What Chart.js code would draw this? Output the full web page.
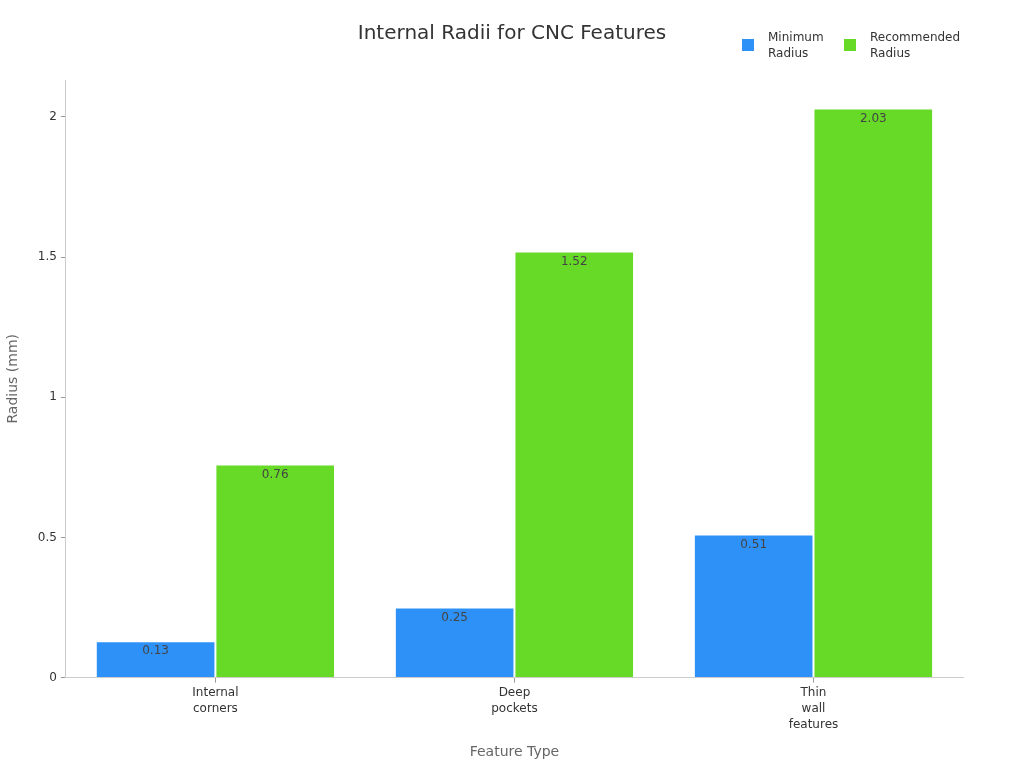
<!DOCTYPE html>
<html>
<head>
<meta charset="utf-8">
<script src="https://cdn.jsdelivr.net/npm/chart.js@4"></script>
<style>
  html, body { margin: 0; padding: 0; background: #fff; }
  #wrap { width: 1024px; height: 768px; }
</style>
</head>
<body>
<div id="wrap"><canvas id="chart" width="1024" height="768"></canvas></div>
<script>
const categories = [['Internal', 'corners'], ['Deep', 'pockets'], ['Thin', 'wall', 'features']];
const seriesNames = [['Minimum', 'Radius'], ['Recommended', 'Radius']];
const seriesColors = ['#2E91F8', '#66DA26'];
const minRadius = [0.13, 0.25, 0.51];
const recRadius = [0.76, 1.52, 2.03];
const yTicks = [0, 0.5, 1, 1.5, 2];

// value labels just inside the top of each bar
const barLabels = {
    id: 'barLabels',
    afterDatasetsDraw(chart) {
        const ctx = chart.ctx;
        ctx.save();
        ctx.font = '12px "DejaVu Sans"';
        ctx.fillStyle = '#444';
        ctx.textAlign = 'center';
        ctx.textBaseline = 'top';
        chart.data.datasets.forEach((ds, i) => {
            chart.getDatasetMeta(i).data.forEach((bar, j) => {
                ctx.fillText(ds.data[j].toFixed(2), bar.x, bar.y + 4);
            });
        });
        ctx.restore();
    }
};

// title + two-line legend in the top right
const header = {
    id: 'header',
    afterDraw(chart) {
        const ctx = chart.ctx;
        ctx.save();
        ctx.font = '20px "DejaVu Sans"';
        ctx.fillStyle = '#333';
        ctx.textAlign = 'center';
        ctx.textBaseline = 'middle';
        ctx.fillText('Internal Radii for CNC Features', 512, 34);

        const boxX = [742, 844];
        ctx.font = '12px "DejaVu Sans"';
        ctx.textAlign = 'left';
        seriesNames.forEach((lines, i) => {
            ctx.fillStyle = seriesColors[i];
            ctx.fillRect(boxX[i], 39, 12, 12);
            ctx.fillStyle = '#333';
            lines.forEach((t, k) => ctx.fillText(t, boxX[i] + 26, 38 + k * 16));
        });
        ctx.restore();
    }
};

new Chart(document.getElementById('chart').getContext('2d'), {
    type: 'bar',
    data: {
        labels: categories,
        datasets: [
            { label: seriesNames[0].join(' '), data: minRadius, backgroundColor: seriesColors[0], borderColor: '#ffffff', borderWidth: 1 },
            { label: seriesNames[1].join(' '), data: recRadius, backgroundColor: seriesColors[1], borderColor: '#ffffff', borderWidth: 1 }
        ]
    },
    options: {
        responsive: false,
        animation: false,
        devicePixelRatio: 1,
        layout: { padding: { left: 1, right: 61, top: 80, bottom: 3 } },
        datasets: { bar: { categoryPercentage: 0.8, barPercentage: 1 } },
        plugins: {
            legend: { display: false },
            tooltip: { enabled: false }
        },
        scales: {
            x: {
                grid: { display: true, offset: false, drawOnChartArea: false, tickLength: 5, color: '#999' },
                border: { color: '#ccc' },
                ticks: { color: '#333', font: { family: 'DejaVu Sans', size: 12, lineHeight: 1.35 }, padding: 2 },
                title: { display: true, text: 'Feature Type', color: '#666', font: { family: 'DejaVu Sans', size: 14 }, padding: { top: 9 } }
            },
            y: {
                min: 0, max: 2.1315,
                afterBuildTicks(axis) { axis.ticks = yTicks.map(v => ({ value: v })); },
                grid: { display: true, drawOnChartArea: false, tickLength: 5, color: '#999' },
                border: { color: '#ccc' },
                ticks: { color: '#333', font: { family: 'DejaVu Sans', size: 12 }, padding: 4, callback: v => String(v) },
                title: { display: true, text: 'Radius (mm)', color: '#666', font: { family: 'DejaVu Sans', size: 14 }, padding: { bottom: 12 } }
            }
        }
    },
    plugins: [barLabels, header]
});
</script>
</body>
</html>
